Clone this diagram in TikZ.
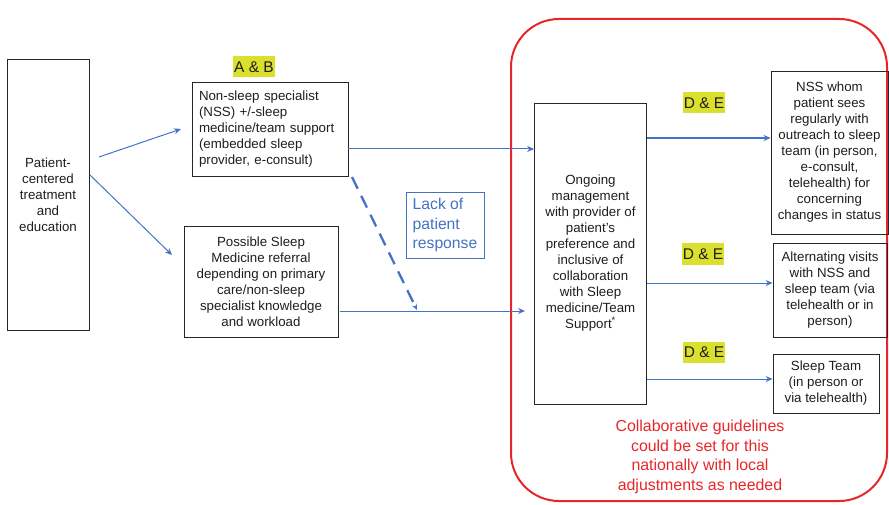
\documentclass[tikz,border=0pt]{standalone}
\usepackage{fontspec}
\setmainfont{Liberation Sans}
\usetikzlibrary{arrows.meta,calc}
\definecolor{myblue}{RGB}{68,114,196}
\definecolor{myred}{RGB}{232,38,42}
\definecolor{hl}{RGB}{218,224,44}
\definecolor{txt}{RGB}{30,30,30}
\begin{document}
\begin{tikzpicture}[x=1pt,y=-1pt,
  box/.style={draw=black!85,line width=0.8pt,rectangle,inner sep=0pt,align=center,
    font=\fontsize{13.3}{16}\selectfont,text=txt},
  conn/.style={myblue,line width=1pt,-{Stealth[length=7pt,width=6pt]}},
  tag/.style={fill=hl,inner sep=0pt,minimum width=42pt,minimum height=21pt,
    font=\fontsize{15.5}{18}\selectfont,text=txt}]
\useasboundingbox (0,0) rectangle (889,505);

% red region
\node[draw=myred,line width=2pt,rounded corners=48pt,minimum width=376pt,minimum height=482pt,inner sep=0pt]
  (region) at (699,260) {};

% boxes
\node[box,minimum width=82pt,minimum height=271pt] (patient) at (48,194.5)
  {Patient-\\centered\\treatment\\and\\education};
\node[box,minimum width=156pt,minimum height=94pt,text width=142pt,align=left] (nss) at (270,129)
  {Non-sleep specialist\\(NSS) +/-sleep\\medicine/team support\\(embedded sleep\\provider, e-consult)};
\node[box,minimum width=154pt,minimum height=111pt] (possible) at (261,281.5)
  {Possible Sleep\\Medicine referral\\depending on primary\\care/non-sleep\\specialist knowledge\\and workload};
\node[box,minimum width=112pt,minimum height=301pt] (ongoing) at (590.5,253.5)
  {Ongoing\\management\\with provider of\\patient's\\preference and\\inclusive of\\collaboration\\with Sleep\\medicine/Team\\Support\textsuperscript{*}};
\node[box,minimum width=117pt,minimum height=163pt] (nsswhom) at (829.5,152.5)
  {NSS whom\\patient sees\\regularly with\\outreach to sleep\\team (in person,\\e-consult,\\telehealth) for\\concerning\\changes in status};
\node[box,minimum width=114pt,minimum height=94pt] (alt) at (830,290)
  {Alternating visits\\with NSS and\\sleep team (via\\telehealth or in\\person)};
\node[box,minimum width=106pt,minimum height=59pt] (team) at (826,383.5)
  {Sleep Team\\(in person or\\via telehealth)};
\node[draw=myblue,line width=0.9pt,text=myblue,inner sep=0pt,minimum width=78pt,minimum height=66pt,
  align=left,font=\fontsize{15.7}{19.7}\selectfont] (lack) at (445,225)
  {Lack of\\patient\\response};

% tags
\node[tag] (ab) at (254,67) {A \& B};
\node[tag] (de1) at (704,103) {D \& E};
\node[tag] (de2) at (703,254) {D \& E};
\node[tag] (de3) at (704,352) {D \& E};

% red note
\node[text=myred,align=center,font=\fontsize{15.9}{19.5}\selectfont] (note) at (700,457)
  {Collaborative guidelines\\could be set for this\\nationally with local\\adjustments as needed};

% connectors
\coordinate (a1s) at (99,157);
\coordinate (a1e) at (181,129);
\coordinate (a2s) at (90,175);
\coordinate (a2e) at (172,255);
\draw[conn] (a1s) -- (a1e);
\draw[conn] (a2s) -- (a2e);

\coordinate (b1s) at ($(nss.east)+(0,20)$);
\draw[conn] (b1s) -- (ongoing.west |- b1s);
\coordinate (b2s) at (340,311);
\coordinate (b2e) at (525,311);
\draw[conn] (b2s) -- (b2e);

\coordinate (ds) at (352,177);
\coordinate (de) at (417,310);
\draw[myblue,line width=2.3pt,dash pattern=on 13pt off 8pt,-{Stealth[length=6pt,width=5pt]}] (ds) -- (de);

\coordinate (c1) at ($(ongoing.east)+(0,-115.5)$);
\draw[myblue,line width=2.2pt,-{Stealth[length=7pt,width=6pt]}] (c1) -- (nsswhom.west |- c1);
\coordinate (c2) at ($(ongoing.east)+(0,29.5)$);
\draw[conn] (c2) -- (alt.west |- c2);
\coordinate (c3) at ($(ongoing.east)+(0,125.5)$);
\draw[conn] (c3) -- (team.west |- c3);
\end{tikzpicture}
\end{document}
